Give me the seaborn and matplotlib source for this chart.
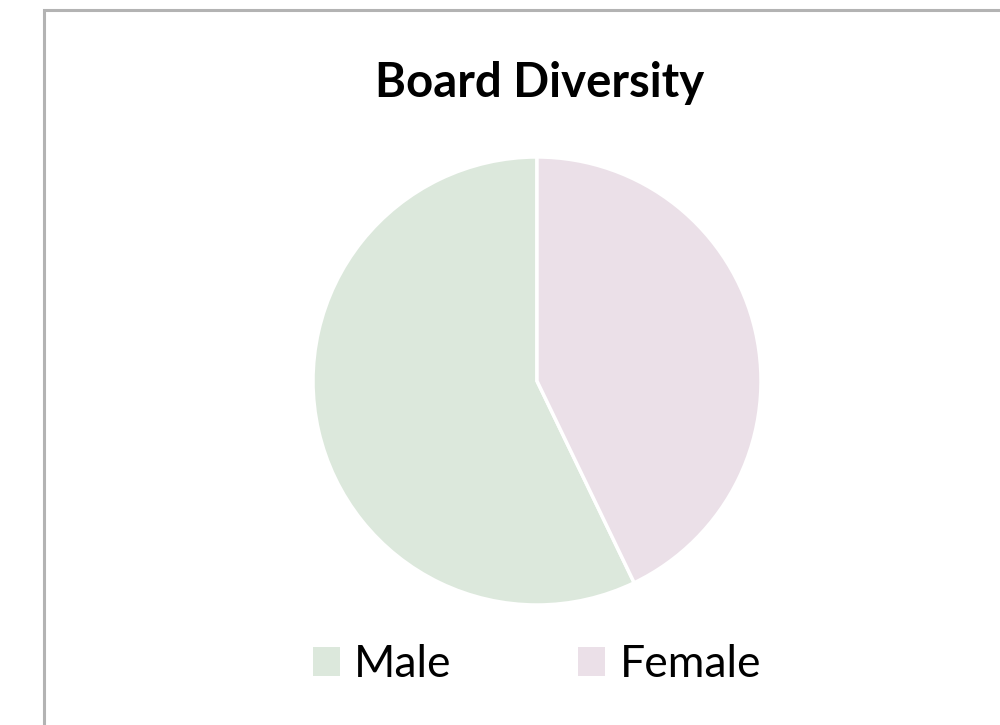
import matplotlib
matplotlib.use("Agg")
import matplotlib.pyplot as plt
import seaborn as sns
from matplotlib.patches import Rectangle, Patch

# Board composition by gender
labels = ["Male", "Female"]
members = [4, 3]
colors = ["#dce8dc", "#ebe0e8"]

sns.set_theme(style="white")
plt.rcParams["font.family"] = ["Lato", "DejaVu Sans"]
palette = sns.color_palette(colors)

fig = plt.figure(figsize=(10, 7.25), dpi=100)
fig.patch.set_facecolor("white")

# Outer frame (left and top edges visible)
fig.add_artist(Rectangle((0.0435, -0.05), 1.2, 1.036, transform=fig.transFigure,
                         fill=False, edgecolor="#b3b3b3", linewidth=2.2))

ax = fig.add_axes([0.313, 0.1655, 0.448, 0.618])
wedges, _ = ax.pie(members, colors=palette, startangle=90, counterclock=True,
                   wedgeprops=dict(edgecolor="white", linewidth=2.5))
ax.set_aspect("equal")
ax.set_xlim(-1.0, 1.0)
ax.set_ylim(-1.0, 1.0)
ax.axis("off")

fig.text(0.54, 0.866, "Board Diversity", ha="center", va="baseline",
         fontsize=34, fontweight="bold", color="black")

handles = [Patch(facecolor=c, edgecolor="none") for c in palette]
leg = fig.legend(handles, labels, loc="center", bbox_to_anchor=(0.537, 0.083), ncol=2,
                 frameon=False, fontsize=32, handlelength=0.61, handleheight=0.61,
                 handletextpad=0.32, columnspacing=2.85)
for t in leg.get_texts():
    t.set_color("black")

fig.savefig("out.png", dpi=100)
